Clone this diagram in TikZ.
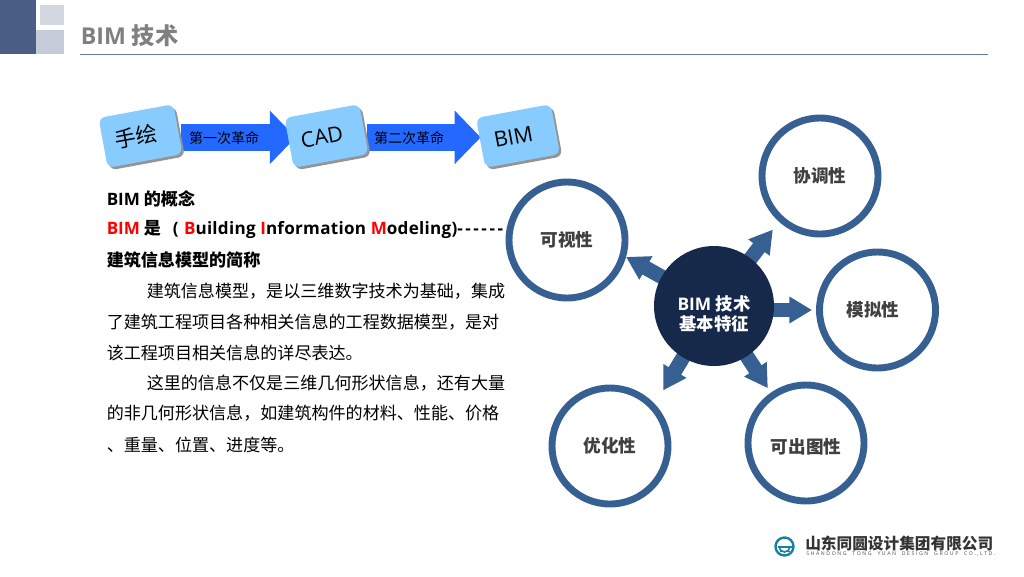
\documentclass[tikz,border=0pt]{standalone}
\usepackage{fontspec}
\usetikzlibrary{arrows.meta,backgrounds,shadows}
\setmainfont{Open Sans}
\newfontfamily\cjk{Noto Sans CJK SC}
\newfontfamily\latinls[LetterSpace=1.6]{Open Sans}
\newfontfamily\dashls[LetterSpace=15]{Open Sans}
\newfontfamily\logosub[LetterSpace=30]{Open Sans}
\newcommand{\pxfont}[1]{\fontsize{#1}{#1}\selectfont}
\definecolor{hdr}{HTML}{4A5E85}
\definecolor{ruleline}{HTML}{5F7BA5}
\definecolor{ringc}{HTML}{366092}
\definecolor{navy}{HTML}{17294B}
\definecolor{boxc}{HTML}{88CCFF}
\definecolor{flowc}{HTML}{2469FF}
\definecolor{txtc}{HTML}{404040}
\definecolor{tealc}{HTML}{1A7FA5}
\tikzset{
  ring/.style={circle,draw=ringc,line width=5.2pt,fill=white,minimum size=87pt,inner sep=0pt,font=\cjk\bfseries\pxfont{13.2pt},text=txtc},
  core/.style={circle,fill=navy,minimum size=90pt,inner sep=0pt},
  corelabel/.style={align=center,text=white,inner sep=0pt,font=\bfseries\pxfont{13pt}},
  spoke/.style={draw=ringc,line width=11pt,-{Triangle[length=17pt,width=19pt]}},
  flowbox/.style={rectangle,rounded corners=5pt,fill=boxc,minimum width=57pt,minimum height=38pt,inner sep=0pt,rotate=10.5,font=\pxfont{16pt},general shadow={fill=black!42,shadow xshift=1.8pt,shadow yshift=-1.8pt}},
  flow/.style={draw=flowc,line width=20pt,-{Triangle[length=19.5pt,width=39pt]}},
  flowlabel/.style={font=\cjk\pxfont{10.5pt},inner sep=0pt},
  para/.style={anchor=west,inner sep=0pt,font=\cjk\pxfont{12.8pt},text=black},
  parab/.style={para,font=\cjk\bfseries\pxfont{12.8pt}},
}
\begin{document}
\begin{tikzpicture}[x=0.75pt,y=-0.75pt]
\path[use as bounding box] (0,0) rectangle (1024,576);
% header
\fill[hdr] (0,0) rectangle (36,54);
\fill[hdr!25!white] (40,5) rectangle (64,25);
\fill[hdr,opacity=.32] (24,30) rectangle (64,54);
\draw[ruleline,line width=0.9pt] (80,54.5) -- (988,54.5);
\node[anchor=west,inner sep=0pt,text=black!50,font=\bfseries\pxfont{17.4pt}] (title) at (80.5,36) {BIM {\cjk 技术}};
% flow
\node[flowbox] (hand) at (140.5,136) {{\cjk 手绘}\hspace*{7pt}};
\node[flowbox] (cad) at (326.5,136) {CAD\hspace*{7pt}};
\node[flowbox] (bim) at (518,136) {BIM\hspace*{7pt}};
\begin{pgfonlayer}{background}
\draw[flow,shorten <=30pt,shorten >=23pt] ([yshift=-1pt]hand.center) -- ([yshift=-1pt]cad.center);
\draw[flow,shorten <=30pt,shorten >=28pt] ([yshift=-1pt]cad.center) -- ([yshift=-1pt]bim.center);
\end{pgfonlayer}
\node[flowlabel] (l1) at (224,138) {第一次革命};
\node[flowlabel] (l2) at (409,138) {第二次革命};
% text
\node[parab] (t1) at (106.5,198.5) {{\fontspec{Open Sans}BIM} 的概念};
\node[parab] (t2) at (106.5,229.5) {\textcolor{red}{\fontspec{Open Sans}BIM}\ 是\hspace{9pt}{\latinls(}\hspace{4pt}{\latinls\textcolor{red}{B}uilding \textcolor{red}{I}nformation \textcolor{red}{M}odeling)}{\dashls------}};
\node[parab] (t3) at (106.5,259.5) {建筑信息模型的简称};
\node[para] (t4) at (146.5,291.5) {建筑信息模型，是以三维数字技术为基础，集成};
\node[para] (t5) at (106.5,322.5) {了建筑工程项目各种相关信息的工程数据模型，是对};
\node[para] (t6) at (106.5,352.5) {该工程项目相关信息的详尽表达。};
\node[para] (t7) at (146.5,383.5) {这里的信息不仅是三维几何形状信息，还有大量};
\node[para] (t8) at (106.5,413.5) {的非几何形状信息，如建筑构件的材料、性能、价格};
\node[para] (t9) at (106.5,444.5) {、重量、位置、进度等。};
% circles
\node[core] (c) at (714,306) {};
\node[corelabel] (cl) at (714,314) {BIM {\cjk 技术}\\[1.5pt]{\cjk 基本特征}};
\node[ring] (r1) at (820,176) {协调性};
\node[ring] (r2) at (877.5,310) {模拟性\hspace*{7pt}};
\node[ring] (r3) at (806,443) {\raisebox{-3pt}[\height][\depth]{可出图性}};
\node[ring] (r4) at (610,446) {优化性};
\node[ring] (r5) at (567,240) {可视性};
\begin{pgfonlayer}{background}
\draw[spoke,shorten >=7.5pt] (c.center) -- (r1.-132);
\draw[spoke,shorten >=3pt] (c.center |- r2.west) -- (r2.west);
\draw[spoke,shorten >=4pt] (c.center) -- (r3.125);
\draw[spoke,shorten >=12pt] (c.center) -- (r4.43);
\draw[spoke] (c.center) -- (r5.-16);
\end{pgfonlayer}
% logo
\node[circle,draw=tealc,line width=1.8pt,minimum size=13.5pt,inner sep=0pt] (logo) at (784.5,546.5) {};
\draw[tealc,line width=1.2pt] (779,546.5) arc[start angle=180,end angle=0,radius=5.5];
\draw[tealc,line width=1.1pt] (777.5,547) -- (791.5,547);
\draw[tealc,line width=1.2pt] (779.5,551.5) -- (789.5,551.5);
\node[anchor=west,inner sep=0pt,font=\cjk\bfseries\pxfont{11.75pt},text=black!80] (brand) at (805,543) {山东同圆设计集团有限公司};
\node[anchor=west,inner sep=0pt,font=\logosub\pxfont{3.9pt},text=black!70] (brand2) at (806,553.5) {SHANDONG\ \ TONG\ \ YUAN\ \ DESIGN\ \ GROUP\ \ CO.,LTD.};
\end{tikzpicture}
\end{document}
